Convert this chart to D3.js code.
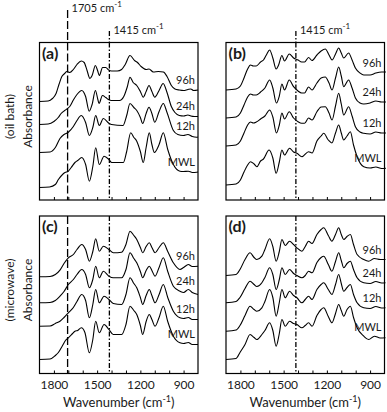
<!DOCTYPE html>
<html>
<head>
<meta charset="utf-8">
<script src="https://cdn.jsdelivr.net/npm/d3@7"></script>
<style>
  body { margin: 0; background: #fff; }
  text { font-family: Lato, "Open Sans", sans-serif; fill: #1a1a1a; }
</style>
</head>
<body>
<div id="chart"></div>
<script>
// series names, panel names, ticks
const seriesNames = ["96h", "24h", "12h", "MWL"];
const panelNames = ["(a)", "(b)", "(c)", "(d)"];
const tickLabels = [1800, 1500, 1200, 900];
const minorTicks = [1800, 1700, 1600, 1500, 1400, 1300, 1200, 1100, 1000, 900];
const refLineCO = 1705;
const refLineCH = 1415;

// vertical offset of each spectrum (a.u.), top to bottom
const offsetsA = [98.5, 75.5, 47.5, 12.5];
const offsetsB = [110, 82, 54, 15];
const offsetsC = [96.7, 70.7, 47.3, 14];
const offsetsD = [98, 70.7, 42.3, 14];

// (a) oil bath
const a96 = [[1900,0],[1840,0.5],[1810,3],[1785,8],[1765,17],[1745,25],[1725,28],[1710,30],[1690,29],[1665,32],[1640,37],[1610,40.5],[1590,39],[1570,31],[1550,23],[1535,26],[1512,36],[1497,31],[1485,26],[1462,34],[1440,34],[1420,31.5],[1400,30.5],[1360,30.5],[1330,32],[1305,37],[1272,46],[1240,41],[1220,39],[1195,35],[1160,32],[1140,32.5],[1110,29.5],[1075,30],[1040,29.5],[1015,25],[985,16],[960,12.5],[930,11.5],[900,11],[870,12],[850,12.5],[830,11],[800,11.5]];
const a24 = [[1900,0],[1840,0.5],[1800,3],[1770,7],[1750,11],[1725,14],[1705,16],[1690,18],[1665,24.5],[1640,30],[1607,34],[1580,28],[1555,13.3],[1535,20],[1512,34],[1495,25],[1487,21],[1463,29],[1440,27],[1422,25],[1400,24],[1345,24],[1315,28],[1290,38],[1272,47.3],[1250,42],[1225,39],[1200,33],[1180,27.3],[1160,33],[1140,39],[1120,33],[1100,27.3],[1070,34],[1042,41],[1015,32],[985,18],[960,12],[930,9],[900,8.5],[870,9.5],[850,8.5],[825,8],[800,8]];
const a12 = [[1900,0],[1827,0.5],[1790,5],[1758,14],[1730,18],[1700,20.3],[1665,26],[1640,32],[1610,37],[1580,30],[1554,17],[1530,25],[1510,37],[1485,27],[1457,34],[1418,29.3],[1400,28],[1320,27],[1295,37],[1272,49],[1245,45],[1225,42],[1200,35],[1184,29],[1160,39],[1140,45.3],[1120,39],[1100,30.3],[1070,41],[1041,49],[1015,40],[971,22],[940,18],[902,17],[870,18],[840,16],[809,15.3],[800,15.5]];
const aMWL = [[1900,0],[1830,0.5],[1790,3],[1769,8],[1740,13],[1723,15],[1700,16.3],[1680,20],[1654,25],[1635,27],[1607,30],[1580,23],[1554,6.3],[1530,21],[1510,39.7],[1485,23],[1452,31.3],[1418,28],[1399,25],[1318,25],[1295,36],[1267,54.7],[1245,50],[1225,46.3],[1200,36],[1180,25],[1160,40],[1138,54.7],[1120,43],[1103,35],[1070,43],[1041,54.7],[1010,38],[971,23],[925,16.3],[902,16],[867,16.3],[840,15],[809,15.3],[800,15.5]];

// (b) oil bath
const b96 = [[1900,0],[1830,1],[1800,4],[1775,12],[1750,21],[1730,25],[1710,24],[1690,24],[1660,28],[1640,30],[1620,35],[1597,40],[1575,32],[1552,21],[1535,25],[1512,34.5],[1494,29],[1461,36],[1431,32],[1400,30],[1375,28],[1355,28],[1327,32.5],[1303,29.5],[1269,35],[1240,39],[1211,41],[1185,35],[1164,30],[1140,36],[1118,42],[1100,37],[1083,32],[1049,37],[1025,30],[1002,22],[970,17],[944,15],[900,15],[860,17],[820,18],[790,18]];
const b24 = [[1900,0],[1830,1],[1800,5],[1775,13],[1750,21],[1730,24],[1710,23],[1690,23],[1660,26],[1630,30],[1597,38],[1575,30],[1550,15],[1530,22],[1512,34],[1494,28],[1461,38],[1431,31.3],[1400,27],[1375,25],[1355,25],[1327,31],[1303,28],[1269,35],[1240,40],[1211,41],[1185,35],[1164,28],[1140,40],[1118,51],[1100,42],[1083,31.3],[1049,38],[1025,30],[1002,20],[970,15],[944,14],[900,15],[860,17],[820,16],[790,16]];
const b12 = [[1900,0],[1830,1],[1800,5],[1775,13],[1750,21],[1730,24],[1710,23],[1690,24],[1660,27],[1630,30],[1597,36],[1575,29],[1550,13],[1530,21],[1512,33],[1494,27],[1461,34.3],[1431,28],[1400,24.3],[1375,22.7],[1355,22.7],[1327,28],[1303,26],[1269,34.3],[1240,39],[1211,39.3],[1185,33],[1164,26],[1140,40],[1118,52.7],[1100,42],[1083,31],[1049,39.3],[1025,30],[1002,19.3],[970,14],[944,12.7],[900,12],[860,14],[820,13],[790,13]];
const bMWL = [[1900,0],[1830,1],[1800,5],[1775,13],[1750,20],[1730,23.3],[1705,21],[1686,18.3],[1660,24],[1640,26],[1601,35],[1575,27],[1552,11.7],[1530,23],[1512,35],[1494,30],[1459,36.7],[1431,33],[1408,31.7],[1373,28.3],[1327,33.3],[1303,32],[1269,44],[1240,49],[1222,51.7],[1190,45],[1165,42],[1140,52],[1118,60],[1100,52],[1083,45],[1060,49],[1037,53.3],[1015,40],[990,28.3],[944,18.3],[900,17],[860,18],[820,16.5],[790,16.7]];

// (c) microwave
const c96 = [[1900,0],[1827,0.3],[1790,2.3],[1758,6.6],[1730,13.3],[1700,19],[1665,22.3],[1640,27.3],[1607,32.3],[1580,27.3],[1554,15.6],[1530,25.3],[1510,38],[1485,25.6],[1457,30.6],[1418,27.3],[1388,24],[1330,24.6],[1300,32.3],[1272,45.6],[1245,41.3],[1225,37.3],[1200,29.3],[1184,24],[1160,30.3],[1138,34],[1120,29.3],[1098,24],[1070,29.3],[1041,34],[1010,25.3],[971,14],[925,7.3],[900,9.3],[867,12.3],[840,10.3],[800,10.6]];
const c24 = [[1900,0],[1827,0.3],[1790,2.3],[1758,6.6],[1730,11.3],[1700,18.3],[1665,23.3],[1640,28.3],[1607,33.3],[1580,28.3],[1554,15],[1530,23.3],[1510,36.6],[1485,25],[1457,31.6],[1418,26.6],[1388,25],[1330,25],[1300,33.3],[1272,50],[1245,44.3],[1225,40],[1200,31.3],[1184,25],[1160,32.3],[1138,36.6],[1120,32.3],[1098,26.6],[1070,35.3],[1041,45],[1010,31.3],[971,16.6],[925,11.6],[900,10.3],[867,13.3],[840,10.3],[800,8.3]];
const c12 = [[1900,0],[1827,0.2],[1790,2.7],[1758,5],[1730,8.7],[1700,13.4],[1665,18.7],[1640,24.7],[1607,31.7],[1580,25.7],[1554,8.4],[1530,21.7],[1510,36.7],[1485,23.4],[1452,30],[1418,26.7],[1388,22.7],[1330,21.7],[1300,31.7],[1272,48.4],[1245,42.7],[1225,38.4],[1200,28.7],[1184,21.7],[1160,30.7],[1138,36.7],[1120,30.7],[1098,23.4],[1070,31.7],[1041,41.7],[1010,28.7],[971,15],[925,8.4],[900,7.7],[867,8.7],[840,6.7],[800,6.7]];
const cMWL = [[1900,0],[1827,0.5],[1790,4],[1769,7],[1740,14],[1720,19],[1700,21.7],[1670,26],[1654,28.3],[1635,29],[1610,31.7],[1585,27],[1554,6.7],[1530,20],[1510,38.3],[1485,26.7],[1452,35],[1418,30],[1388,25],[1330,25],[1300,35],[1272,53.3],[1245,49],[1225,45],[1200,34],[1184,25],[1160,38],[1138,45],[1120,40],[1098,33.3],[1070,42],[1041,53.3],[1010,38],[971,23.3],[925,16.7],[900,16],[867,17],[840,15],[800,15]];

// (d) microwave
const d96 = [[1900,0],[1830,1],[1803,6],[1768,16],[1733,22.7],[1705,18],[1686,16],[1651,19.3],[1630,26],[1597,36.7],[1575,29],[1552,14.3],[1530,24],[1512,36],[1489,30],[1459,34.3],[1431,31],[1408,27.7],[1373,24.3],[1350,29],[1327,34.3],[1303,32],[1269,41],[1240,46],[1222,47.7],[1190,40],[1165,34.3],[1140,41],[1118,47.7],[1100,41],[1083,36],[1060,39],[1037,41],[1015,31],[990,21],[944,16],[910,14.3],[870,17],[830,16],[793,16]];
const d24 = [[1900,0],[1830,1.3],[1803,5.3],[1768,14.3],[1733,21.6],[1705,18.3],[1686,16.3],[1651,20],[1630,25.3],[1597,35],[1575,28.3],[1552,13.3],[1530,23.3],[1512,35],[1489,28.3],[1459,33.3],[1431,29.3],[1408,27.3],[1373,25],[1350,27.3],[1327,31.6],[1303,30],[1269,40.3],[1240,45.3],[1222,46.6],[1190,38.3],[1165,31.6],[1140,41.3],[1118,50],[1100,42.3],[1083,35],[1060,39.3],[1037,41.6],[1015,33.3],[990,25],[944,20],[900,19.3],[860,21.3],[820,19.8],[793,20]];
const d12 = [[1900,0],[1830,1.2],[1803,5.7],[1768,15.7],[1733,25],[1705,21.7],[1686,20],[1651,23.4],[1630,29.7],[1597,41.7],[1575,33.7],[1552,15],[1530,28.7],[1512,41.7],[1489,33.4],[1459,40],[1431,35.7],[1408,33.4],[1373,28.4],[1350,31.7],[1327,35],[1303,31.7],[1269,41.7],[1240,46.7],[1222,48.4],[1190,41.7],[1165,36.7],[1140,46.7],[1118,56.7],[1100,47.7],[1083,40],[1060,43.7],[1037,46.7],[1015,36.7],[990,28.4],[944,23.4],[900,22.7],[860,24.7],[820,23.2],[793,23.4]];
const dMWL = [[1900,0],[1830,1],[1803,7],[1768,15],[1733,25],[1705,22],[1686,20],[1651,25],[1630,29],[1597,36.7],[1575,29],[1552,13.3],[1530,26],[1512,40],[1489,33.3],[1459,38.3],[1431,36],[1408,35],[1373,31.7],[1350,34],[1327,36.7],[1303,33.3],[1269,44],[1240,50],[1222,51.7],[1190,43],[1165,36.7],[1140,46],[1118,55],[1100,49],[1083,43.3],[1060,50],[1037,53.3],[1015,42],[990,31.7],[944,23.3],[910,20],[870,23.3],[830,21.5],[793,21.7]];

const panels = [
  { name: panelNames[0], col: 0, row: 0, spectra: [a96, a24, a12, aMWL], offsets: offsetsA, refs: [refLineCO, refLineCH] },
  { name: panelNames[1], col: 1, row: 0, spectra: [b96, b24, b12, bMWL], offsets: offsetsB, refs: [refLineCH] },
  { name: panelNames[2], col: 0, row: 1, spectra: [c96, c24, c12, cMWL], offsets: offsetsC, refs: [refLineCO, refLineCH] },
  { name: panelNames[3], col: 1, row: 1, spectra: [d96, d24, d12, dMWL], offsets: offsetsD, refs: [refLineCH] }
];

const W = 387, H = 412;
const colX = [39.5, 226];
const rowY = [42.5, 216];
const pw = 158.5, ph = 157.5;

const svg = d3.select("#chart")
  .append("svg")
    .attr("width", W)
    .attr("height", H);

const x = d3.scaleLinear().domain([1900, 800]).range([0, pw]);
const y = d3.scaleLinear().domain([0, 157.5]).range([ph, 0]);

const line = d3.line()
  .x(d => x(d[0]))
  .y(d => y(d[1]))
  .curve(d3.curveMonotoneX);

panels.forEach(function(p) {
  const g = svg.append("g")
    .attr("transform", "translate(" + colX[p.col] + "," + rowY[p.row] + ")");

  // reference lines
  p.refs.forEach(function(r) {
    g.append("line")
      .attr("x1", x(r)).attr("x2", x(r))
      .attr("y1", 0).attr("y2", ph)
      .attr("stroke", "#000")
      .attr("stroke-width", 1.3)
      .attr("stroke-dasharray", r === refLineCO ? "8,3" : "5,2,1.5,2");
  });

  // spectra
  p.spectra.forEach(function(s, i) {
    const off = p.offsets[i];
    g.append("path")
      .datum(s.map(d => [d[0], d[1] + off]))
      .attr("fill", "none")
      .attr("stroke", "#000")
      .attr("stroke-width", 1.1)
      .attr("d", line);

    // label sits just above the right end of the curve
    const tail = d3.max(s.filter(d => d[0] <= 920), d => d[1]) + off;
    g.append("text")
      .attr("x", pw - 3)
      .attr("y", y(tail) - 5)
      .attr("text-anchor", "end")
      .style("font-size", "11px")
      .text(seriesNames[i]);
  });

  // ticks
  const axis = d3.axisBottom(x)
    .tickValues(minorTicks)
    .tickSizeInner(-3)
    .tickSizeOuter(0)
    .tickPadding(7)
    .tickFormat(d => (p.row === 1 && tickLabels.includes(d)) ? d : "");
  const ax = g.append("g")
    .attr("transform", "translate(0," + ph + ")")
    .call(axis);
  ax.select(".domain").remove();
  ax.selectAll(".tick line").attr("stroke", "#000");
  ax.selectAll(".tick text")
    .style("font-family", "Lato, sans-serif")
    .style("font-size", "12px")
    .attr("fill", "#1a1a1a");

  // frame
  g.append("rect")
    .attr("width", pw).attr("height", ph)
    .attr("fill", "none")
    .attr("stroke", "#000")
    .attr("stroke-width", 1.2);

  // panel letter
  g.append("text")
    .attr("x", 2.5)
    .attr("y", 16)
    .style("font-size", "16px")
    .style("font-weight", "bold")
    .text(p.name);

  // x axis title
  if (p.row === 1) {
    const t = g.append("text")
      .attr("x", pw / 2)
      .attr("y", ph + 33)
      .attr("text-anchor", "middle")
      .style("font-size", "13px");
    t.append("tspan").text("Wavenumber (cm");
    t.append("tspan").attr("dy", -5).style("font-size", "9px").text("-1");
    t.append("tspan").attr("dy", 5).text(")");
  }
});

// reference lines extend above panel (a) / (b) with labels
[{ v: refLineCO, top: 10, ty: 12, cols: [0] }, { v: refLineCH, top: 31, ty: 34, cols: [0, 1] }]
  .forEach(function(r) {
    r.cols.forEach(function(c) {
      const xx = colX[c] + x(r.v);
      svg.append("line")
        .attr("x1", xx).attr("x2", xx)
        .attr("y1", r.top).attr("y2", rowY[0])
        .attr("stroke", "#000")
        .attr("stroke-width", 1.3)
        .attr("stroke-dasharray", r.v === refLineCO ? "8,3" : "5,2,1.5,2");
      const t = svg.append("text")
        .attr("x", xx + 4)
        .attr("y", r.ty)
        .style("font-size", "11px");
      t.append("tspan").text(r.v + " cm");
      t.append("tspan").attr("dy", -5).style("font-size", "8px").text("-1");
    });
  });

// y titles
[["(oil bath)", 0], ["(microwave)", 1]].forEach(function(l) {
  const cy = rowY[l[1]] + 74;
  svg.append("text")
    .attr("transform", "translate(14," + cy + ") rotate(-90)")
    .attr("text-anchor", "middle")
    .style("font-size", "12px")
    .text(l[0]);
  svg.append("text")
    .attr("transform", "translate(32," + cy + ") rotate(-90)")
    .attr("text-anchor", "middle")
    .style("font-size", "12px")
    .text("Absorbance");
});
</script>
</body>
</html>
